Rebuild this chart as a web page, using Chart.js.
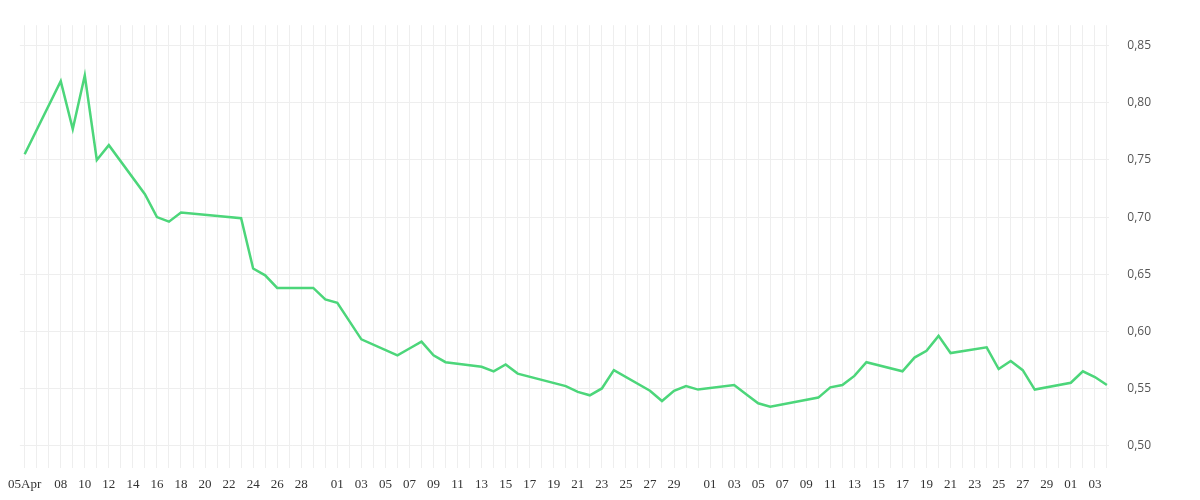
<!DOCTYPE html>
<html>
<head>
<meta charset="utf-8">
<script src="https://cdn.jsdelivr.net/npm/chart.js@4/dist/chart.umd.min.js"></script>
<style>
  body { margin: 0; background: #fff; }
  #wrap { width: 1200px; height: 500px; }
</style>
</head>
<body>
<div id="wrap"><canvas id="rateChart"></canvas></div>
<script>
// trading days, counted from 5 Apr
const dayOffsets = [0, 3, 4, 5, 6, 7, 10, 11, 12, 13, 18, 19, 20, 21, 24, 25, 26, 28,
  31, 32, 33, 34, 35, 38, 39, 40, 41, 45, 46, 47, 48, 49, 52, 53, 54, 55, 56,
  59, 60, 61, 62, 66, 67, 68, 69, 70, 73, 74, 75, 76, 77, 80, 81, 82, 83, 84,
  87, 88, 89, 90];
const rates = [0.755, 0.819, 0.777, 0.824, 0.750, 0.763, 0.720, 0.700, 0.696, 0.704,
  0.699, 0.655, 0.649, 0.638, 0.638, 0.628, 0.625, 0.593,
  0.579, 0.585, 0.591, 0.579, 0.573, 0.569, 0.565, 0.571, 0.563,
  0.552, 0.547, 0.544, 0.550, 0.566, 0.548, 0.539, 0.548, 0.552, 0.549,
  0.553, 0.545, 0.537, 0.534, 0.542, 0.551, 0.553, 0.561, 0.573,
  0.565, 0.577, 0.583, 0.596, 0.581, 0.586, 0.567, 0.574, 0.566, 0.549,
  0.555, 0.565, 0.560, 0.553];
const yTicks = [0.5, 0.55, 0.6, 0.65, 0.7, 0.75, 0.8, 0.85];
const startDate = new Date(2024, 3, 5);

function tickLabel(i) {
  if (i === 0) return '05Apr';
  const d = new Date(startDate);
  d.setDate(d.getDate() + i);
  const day = d.getDate();
  const show = d.getMonth() === 3
    ? (day % 2 === 0 && day >= 8 && day <= 28)
    : (day % 2 === 1 && day !== 31);
  return show ? String(day).padStart(2, '0') : '';
}

new Chart(document.getElementById('rateChart'), {
  type: 'line',
  data: {
    datasets: [{
      data: dayOffsets.map((d, i) => ({ x: d, y: rates[i] })),
      borderColor: '#4cd67a',
      borderWidth: 2.5,
      pointRadius: 0,
      tension: 0,
      fill: false
    }]
  },
  options: {
    responsive: true,
    maintainAspectRatio: false,
    animation: false,
    layout: { padding: { left: 13, top: 0, right: 31, bottom: 0 } },
    plugins: { legend: { display: false }, tooltip: { enabled: false } },
    scales: {
      x: {
        type: 'linear',
        min: -0.4,
        max: 90.2,
        border: { display: false },
        grid: { color: '#eeeeee', drawTicks: false },
        afterBuildTicks: axis => {
          const t = [];
          for (let i = 0; i <= 90; i++) t.push({ value: i });
          axis.ticks = t;
        },
        ticks: {
          autoSkip: false,
          maxRotation: 0,
          padding: 8,
          color: '#333',
          font: { family: 'Liberation Serif', size: 13 },
          callback: v => tickLabel(v)
        }
      },
      y: {
        position: 'right',
        min: 0.48,
        max: 0.868,
        border: { display: false },
        grid: { color: '#eeeeee', drawTicks: false },
        afterBuildTicks: axis => {
          axis.ticks = yTicks.map(v => ({ value: v }));
        },
        ticks: {
          padding: 18,
          color: '#555',
          font: { family: 'Open Sans', size: 12 },
          callback: v => v.toFixed(2).replace('.', ',')
        }
      }
    }
  }
});
</script>
</body>
</html>
